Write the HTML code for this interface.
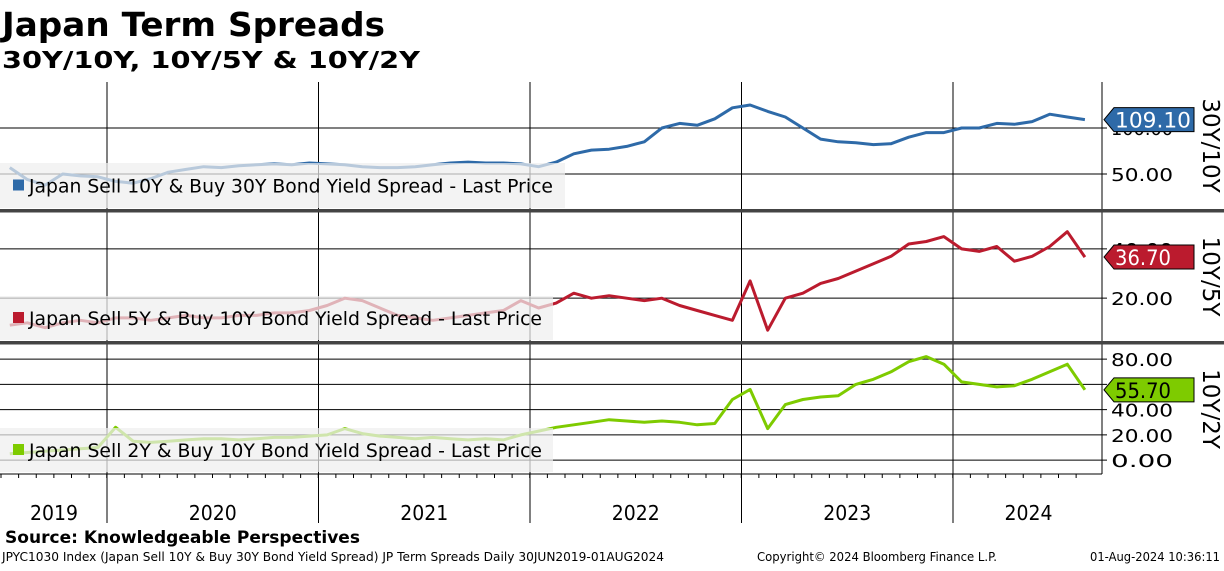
<!DOCTYPE html>
<html><head><meta charset="utf-8"><style>
body{margin:0;background:#fff;width:1224px;height:566px;overflow:hidden;font-family:"Liberation Sans","DejaVu Sans",sans-serif}
svg text{font-family:"DejaVu Sans","Liberation Sans",sans-serif}
</style></head><body>
<svg id="c" width="1224" height="566">
<text x="2" y="36" font-size="33" font-weight="bold" fill="#000" textLength="383" lengthAdjust="spacingAndGlyphs">Japan Term Spreads</text>
<text x="2" y="68" font-size="23" font-weight="bold" fill="#000" textLength="418" lengthAdjust="spacingAndGlyphs">30Y/10Y, 10Y/5Y &amp; 10Y/2Y</text>
<g id="g"></g>
<text x="5" y="543" font-size="17" font-weight="bold" textLength="355" lengthAdjust="spacingAndGlyphs">Source: Knowledgeable Perspectives</text>
<text x="2" y="561" font-size="12" textLength="662" lengthAdjust="spacingAndGlyphs">JPYC1030 Index (Japan Sell 10Y &amp; Buy 30Y Bond Yield Spread) JP Term Spreads  Daily 30JUN2019-01AUG2024</text>
<text x="757" y="561" font-size="12" textLength="240" lengthAdjust="spacingAndGlyphs">Copyright© 2024 Bloomberg Finance L.P.</text>
<text x="1090" y="561" font-size="12" textLength="130" lengthAdjust="spacingAndGlyphs">01-Aug-2024 10:36:11</text>
</svg>
<script>
// monthly data Jul 2019 .. Aug 2024
const months = 62;
const years = ["2019","2020","2021","2022","2023","2024"];
const s30y10y = [57,44,38,50,48,47,42,40,45,52,55,58,57,59,60,61,60,62,61,60,58,57,57,58,60,62,63,62,62,61,58,63,72,76,77,80,85,100,105,103,110,122,125,118,112,100,88,85,84,82,83,90,95,95,100,100,105,104,107,115,112,109.1];
const s10y5y = [9,10,8,10,11,10,12,12,11,12,13,12,12,13,13,14,14,15,17,20,19,16,13,12,11,12,13,14,15,19,16,18,22,20,21,20,19,20,17,15,13,11,27,7,20,22,26,28,31,34,37,42,43,45,40,39,41,35,37,41,47,36.7];
const s10y2y = [5,6,7,8,9,10,26,15,14,15,16,17,17,16,17,18,18,19,20,25,21,19,18,17,18,17,16,17,16,20,23,26,28,30,32,31,30,31,30,28,29,48,56,25,44,48,50,51,60,64,70,78,82,76,62,60,58,59,64,70,76,55.7];
const ticks1 = [50,100], ticks2 = [20,40], ticks3 = [0,20,40,60,80];
const NS='http://www.w3.org/2000/svg', g=document.getElementById('g');
function el(t,a,p){const e=document.createElementNS(NS,t);for(const k in a)e.setAttribute(k,a[k]);(p||g).appendChild(e);return e;}
const X0=1, PX_M=211.5/12;
function xm(i){return X0+(i+0.5)*PX_M;}
function xYear(y){return 107+(y-2020)*211.5;}
const AX=1102;
const panels=[
 {top:82,bot:209,vTop:150,vBot:12,data:s30y10y,ticks:ticks1,color:'#2e6aa8',name:'30Y/10Y',legend:'Japan Sell 10Y & Buy 30Y Bond Yield Spread - Last Price',lg:[163,208],lw:565,tw:524,tagText:'#fff'},
 {top:212,bot:341,vTop:55,vBot:2.6,data:s10y5y,ticks:ticks2,color:'#bb1b2e',name:'10Y/5Y',legend:'Japan Sell 5Y & Buy 10Y Bond Yield Spread - Last Price',lg:[296,340],lw:553,tw:513,tagText:'#fff'},
 {top:344,bot:474,vTop:92,vBot:-11,data:s10y2y,ticks:ticks3,color:'#7ecb00',name:'10Y/2Y',legend:'Japan Sell 2Y & Buy 10Y Bond Yield Spread - Last Price',lg:[428,472],lw:553,tw:513,tagText:'#000'}
];
for(const y of [2020,2021,2022,2023,2024]){
 const l=el('line',{x1:xYear(y),x2:xYear(y),y1:82,y2:523,stroke:'#000','stroke-width':1});
 
 
}
panels.forEach((p,pi)=>{
 const ys=v=>p.top+(p.vTop-v)/(p.vTop-p.vBot)*(p.bot-p.top);
 p.ticks.forEach(t=>{
  const l=el('line',{x1:0,x2:AX+5,y1:ys(t),y2:ys(t),stroke:'#000','stroke-width':1});
  
  
  const tx=el('text',{x:AX+9,y:ys(t)+7,'font-size':18,textLength:62,lengthAdjust:'spacingAndGlyphs'});
  
  
  tx.textContent=t.toFixed(2);
 });
 let d='';
 p.data.forEach((v,i)=>{d+=(i?'L':'M')+xm(i).toFixed(1)+','+ys(v).toFixed(1);});
 const path=el('path',{d:d,fill:'none',stroke:p.color,'stroke-width':3,'stroke-linejoin':'round'});
 
 
 const lb=el('rect',{x:0,y:p.lg[0],width:p.lw,height:p.lg[1]-p.lg[0],fill:'rgba(238,238,238,0.72)'});
 
 
 const sw=el('rect',{x:13,y:(p.lg[0]+p.lg[1])/2-6,width:11,height:11,fill:p.color});
 
 
 const lt=el('text',{x:29,y:(p.lg[0]+p.lg[1])/2+7,'font-size':19,fill:'#000',textLength:p.tw,lengthAdjust:'spacingAndGlyphs'});
 
 
 lt.textContent=p.legend;
 const al=el('line',{x1:AX,x2:AX,y1:p.top,y2:p.bot,stroke:'#000'});
 
 
 const last=p.data[p.data.length-1], ty=ys(last);
 const tag=el('path',{d:`M${AX+2},${ty} L${AX+12},${ty-12} H${AX+92} V${ty+12} H${AX+12} Z`,fill:p.color,stroke:'#000','stroke-width':1});
 
 
 const tt=el('text',{x:AX+13,y:ty+8,'font-size':21,fill:p.tagText,textLength:last>=100?76:56,lengthAdjust:'spacingAndGlyphs'});
 
 
 tt.textContent=last.toFixed(2);
 const cy=(p.top+p.bot)/2;
 const at=el('text',{x:0,y:0,'font-size':23,'text-anchor':'middle',transform:`translate(1203,${cy}) rotate(90)`});
 
 
 at.textContent=p.name;
});
[209,341].forEach(y=>{
 const r=el('rect',{x:0,y:y,width:1224,height:3.5,fill:'#444'});
 
 
});
const xa=el('line',{x1:0,x2:AX,y1:474,y2:474,stroke:'#000'});


for(let i=0;i<months;i++){
 const t=el('line',{x1:X0+i*PX_M,x2:X0+i*PX_M,y1:474,y2:478,stroke:'#000'});
 
 
}
years.forEach((y,i)=>{
 const yr=+y;
 const a=Math.max(1,xYear(yr)), b=Math.min(1104,xYear(yr+1));
 const t=el('text',{x:(a+b)/2,y:520,'font-size':20,'text-anchor':'middle',textLength:48,lengthAdjust:'spacingAndGlyphs'});
 
 
 t.textContent=y;
});
</script>
</body></html>
